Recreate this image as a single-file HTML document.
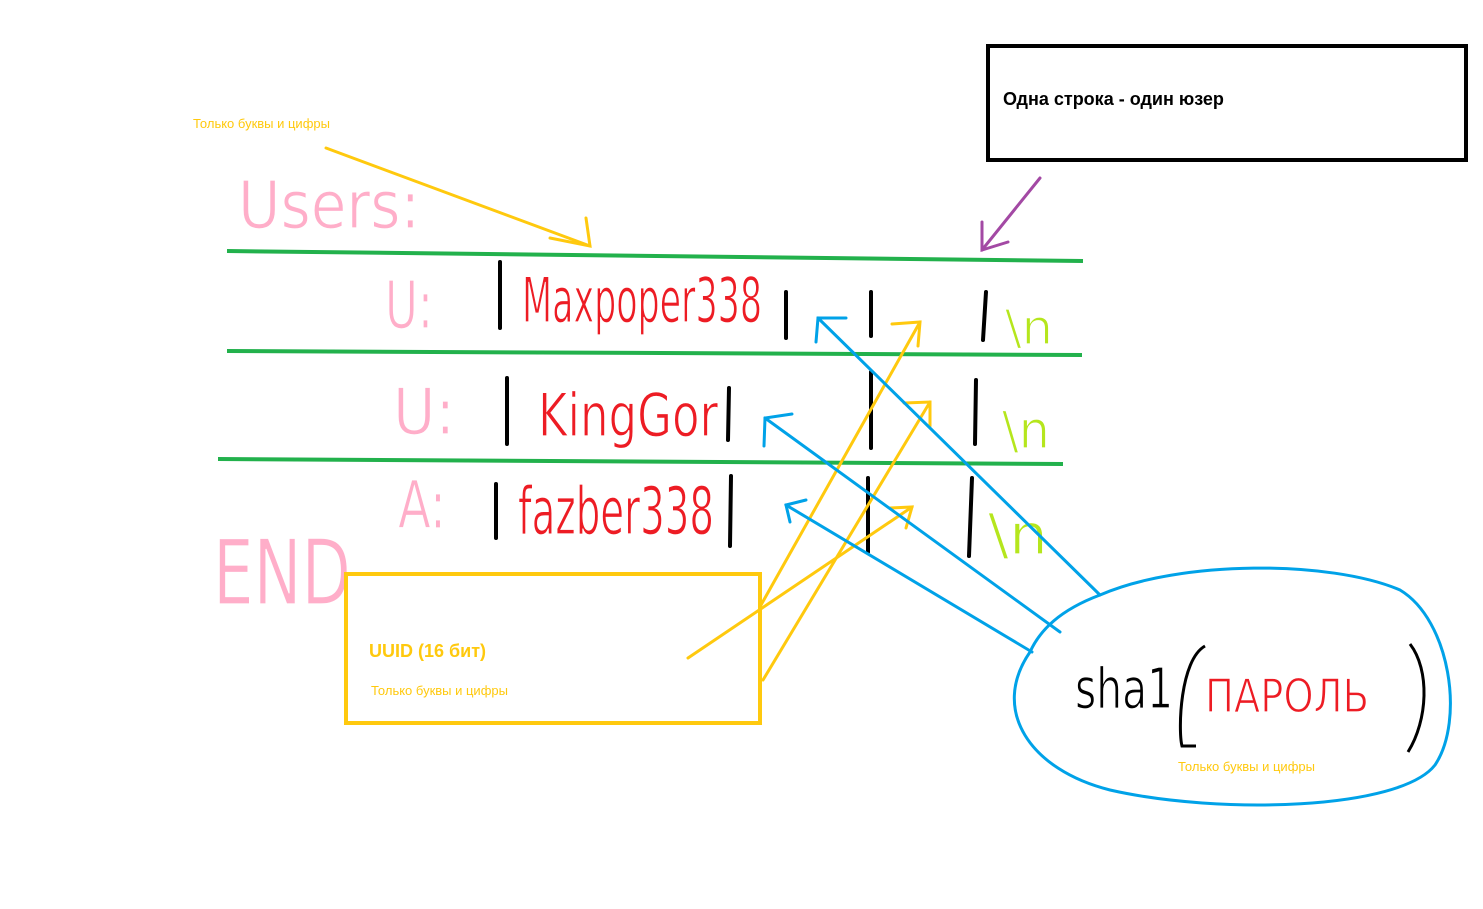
<!DOCTYPE html>
<html><head><meta charset="utf-8"><style>
html,body{margin:0;padding:0;background:#fff;}
svg{display:block;}
text{font-family:"Liberation Sans","DejaVu Sans",sans-serif;}
.hand{font-family:"DejaVu Sans Condensed","Liberation Sans Narrow","Liberation Sans",sans-serif;font-weight:200;stroke:#fff;stroke-width:1.2px;paint-order:normal;}
</style></head><body>
<svg width="1483" height="909" viewBox="0 0 1483 909" xmlns="http://www.w3.org/2000/svg">
<rect x="0" y="0" width="1483" height="909" fill="#fff"/>
<rect x="988" y="46" width="478" height="114" fill="none" stroke="#000" stroke-width="4"/>
<text x="1003" y="105" font-size="18" font-weight="bold" fill="#000">Одна строка - один юзер</text>
<text x="193" y="128" font-size="13" fill="#ffc90e">Только буквы и цифры</text>
<g stroke="#ffc90e" stroke-width="3" fill="none" stroke-linecap="round">
<path d="M326 148 L590 246"/><path d="M550 238 L590 246 L586 218"/>
</g>
<g stroke="#a349a4" stroke-width="3" fill="none" stroke-linecap="round">
<path d="M1040 178 L982 250"/><path d="M982 222 L982 250 L1008 242"/>
</g>
<text class="hand" x="238" y="228" font-size="66" fill="#ffaec9" textLength="182" lengthAdjust="spacingAndGlyphs">Users:</text>
<g stroke="#22b14c" stroke-width="4" fill="none">
<path d="M227 251 L1083 261"/><path d="M227 351 L1082 355"/><path d="M218 459 L1063 464"/>
</g>
<text class="hand" x="385" y="328" font-size="66" fill="#ffaec9" textLength="48" lengthAdjust="spacingAndGlyphs">U:</text>
<text class="hand" x="393" y="434" font-size="64" fill="#ffaec9" textLength="62" lengthAdjust="spacingAndGlyphs">U:</text>
<text class="hand" x="398" y="528" font-size="66" fill="#ffaec9" textLength="48" lengthAdjust="spacingAndGlyphs">A:</text>
<text class="hand" x="213" y="604" font-size="90" fill="#ffaec9" textLength="138" lengthAdjust="spacingAndGlyphs">END</text>
<g stroke="#000" stroke-width="4" stroke-linecap="round">
<path d="M500 262 L500 328"/><path d="M786 292 L786 338"/><path d="M871 292 L871 336"/><path d="M986 292 L983 340"/>
<path d="M507 378 L507 444"/><path d="M729 388 L728 440"/><path d="M871 372 L871 448"/><path d="M976 380 L975 444"/>
<path d="M496 484 L496 538"/><path d="M731 476 L730 546"/><path d="M868 478 L868 552"/><path d="M972 478 L969 556"/>
</g>
<text class="hand" x="522" y="322" font-size="62" fill="#ed1c24" textLength="240" lengthAdjust="spacingAndGlyphs">Maxpoper338</text>
<text class="hand" x="538" y="436" font-size="60" fill="#ed1c24" textLength="180" lengthAdjust="spacingAndGlyphs">KingGor</text>
<text class="hand" x="518" y="534" font-size="66" fill="#ed1c24" textLength="196" lengthAdjust="spacingAndGlyphs">fazber338</text>
<text class="hand" x="1005" y="344" font-size="48" fill="#b5e61d" textLength="48" lengthAdjust="spacingAndGlyphs">\n</text>
<text class="hand" x="1002" y="448" font-size="52" fill="#b5e61d" textLength="48" lengthAdjust="spacingAndGlyphs">\n</text>
<text class="hand" x="988" y="554" font-size="56" fill="#b5e61d" textLength="60" lengthAdjust="spacingAndGlyphs">\n</text>
<rect x="346" y="574" width="414" height="149" fill="none" stroke="#ffc90e" stroke-width="4"/>
<text x="369" y="657" font-size="18" font-weight="bold" fill="#ffc90e">UUID (16 бит)</text>
<text x="371" y="695" font-size="13" fill="#ffc90e">Только буквы и цифры</text>
<g stroke="#ffc90e" stroke-width="3" fill="none" stroke-linecap="round">
<path d="M688 658 L912 507"/><path d="M890 508 L912 507 L906 528"/>
<path d="M761 605 L920 322"/><path d="M892 324 L920 322 L918 346"/>
<path d="M763 680 L930 402"/><path d="M904 403 L930 402 L930 426"/>
</g>
<g stroke="#00a2e8" stroke-width="3" fill="none" stroke-linecap="round">
<path d="M1100 595 L818 318"/><path d="M816 342 L818 318 L846 318"/>
<path d="M1060 632 L765 418"/><path d="M764 446 L765 418 L792 414"/>
<path d="M1032 652 L786 505"/><path d="M790 522 L786 505 L806 500"/>
</g>
<path d="M1100 595 C1180 560,1330 560,1400 590 C1450 620,1465 720,1435 765 C1400 810,1220 815,1110 790 C1030 770,990 710,1030 652 C1040 630,1060 610,1100 595 Z" fill="none" stroke="#00a2e8" stroke-width="3"/>
<text class="hand" x="1075" y="708" font-size="56" fill="#000" textLength="98" lengthAdjust="spacingAndGlyphs">sha1</text>
<path d="M1205 646 C1180 660,1178 730,1182 746 L1196 746" fill="none" stroke="#000" stroke-width="3"/>
<text class="hand" x="1205" y="712" font-size="46" fill="#ed1c24" textLength="164" lengthAdjust="spacingAndGlyphs">ПАРОЛЬ</text>
<path d="M1410 644 C1430 670,1428 720,1408 752" fill="none" stroke="#000" stroke-width="3"/>
<text x="1178" y="771" font-size="13" fill="#ffc90e">Только буквы и цифры</text>
</svg>
</body></html>
